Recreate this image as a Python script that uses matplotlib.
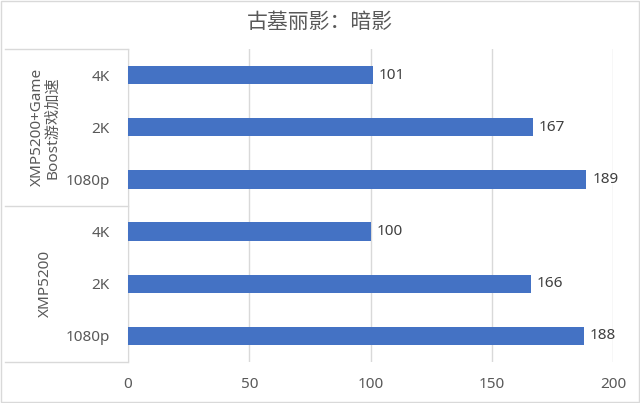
import matplotlib.pyplot as plt
from matplotlib.transforms import blended_transform_factory

plt.rcParams['font.family'] = ['Noto Sans', 'Noto Sans CJK SC', 'DejaVu Sans']

# 数据（从下往上）
groups = ['XMP5200', 'XMP5200+Game\nBoost游戏加速']
resolutions = ['1080p', '2K', '4K']
values_xmp = [188, 166, 100]
values_boost = [189, 167, 101]
x_ticks = [0, 50, 100, 150, 200]

bar_color = '#4472C4'
text_color = '#595959'
line_color = '#D9D9D9'

fig = plt.figure(figsize=(6.4, 4.03), dpi=100)
ax = fig.add_axes([128 / 640, 1 - 362 / 403, 485 / 640, 313 / 403])

labels = resolutions + resolutions
values = values_xmp + values_boost
ypos = list(range(len(values)))
ax.barh(ypos, values, height=0.35, color=bar_color, zorder=3)

for y, v in zip(ypos, values):
    ax.text(v + 2.5, y, str(v), va='center', ha='left', fontsize=11, color='#404040')

ax.set_xlim(0, 200)
ax.set_ylim(-0.5, len(values) - 0.5)
ax.set_xticks(x_ticks)
ax.set_yticks(ypos)
ax.set_yticklabels(labels)
ax.tick_params(axis='both', length=0, labelsize=11, labelcolor=text_color)
ax.tick_params(axis='y', pad=13)
ax.tick_params(axis='x', pad=11)
ax.grid(axis='x', color=line_color, linewidth=1, zorder=0)

for side in ['top', 'right', 'bottom']:
    ax.spines[side].set_visible(False)
ax.spines['left'].set_color(line_color)

# 分组标签和分隔线
trans = blended_transform_factory(ax.transAxes, ax.transData)
x_left = (5 - 128) / 485
for yb in [-0.5, 2.5, 5.5]:
    ax.plot([x_left, 0], [yb, yb], transform=trans, color=line_color,
            linewidth=1, clip_on=False)
ax.text((45 - 128) / 485, 1, groups[0], transform=trans, rotation=90,
        ha='center', va='center', fontsize=11, color=text_color)
ax.text((45 - 128) / 485, 4, groups[1], transform=trans, rotation=90,
        ha='center', va='center', fontsize=11, color=text_color,
        multialignment='center', linespacing=1.05)

fig.suptitle('古墓丽影：暗影', y=1 - 22 / 403, va='center', fontsize=15, color=text_color)

# 外框
fig.patches.append(plt.Rectangle((0.002, 0.002), 0.996, 0.996, transform=fig.transFigure,
                                 fill=False, edgecolor=line_color, linewidth=1))

fig.savefig('out.png', dpi=100)
